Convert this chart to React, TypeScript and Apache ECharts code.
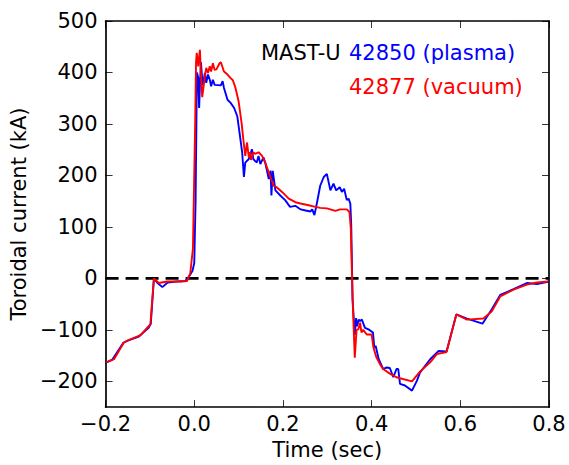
import React, { useEffect, useRef } from "react";
import * as echarts from "echarts";

const xTicks = [-0.2, 0.0, 0.2, 0.4, 0.6, 0.8];
const yTicks = [-200, -100, 0, 100, 200, 300, 400, 500];

const plasmaTime = [
  -0.198, -0.185, -0.16, -0.15, -0.125, -0.103, -0.098, -0.091, -0.084, -0.072, -0.06, -0.04, -0.02, -0.01, -0.004,
  0.0, 0.003, 0.006, 0.009, 0.011, 0.013, 0.015, 0.019, 0.024, 0.027, 0.031, 0.035, 0.038, 0.042, 0.046, 0.06,
  0.064, 0.067, 0.075, 0.082, 0.09, 0.097, 0.101, 0.105, 0.108, 0.112, 0.115, 0.123, 0.13, 0.133, 0.141, 0.145,
  0.149, 0.156, 0.16, 0.168, 0.172, 0.174, 0.177, 0.183, 0.194, 0.205, 0.216, 0.228, 0.24, 0.251, 0.262, 0.266,
  0.271, 0.277, 0.284, 0.292, 0.299, 0.307, 0.314, 0.32, 0.328, 0.333, 0.338, 0.344, 0.348, 0.352, 0.354, 0.357,
  0.362, 0.365, 0.367, 0.371, 0.374, 0.378, 0.385, 0.393, 0.403, 0.406, 0.409, 0.416, 0.426, 0.434, 0.441, 0.449,
  0.456, 0.46, 0.464, 0.475, 0.491, 0.502, 0.509, 0.532, 0.551, 0.569, 0.591, 0.615, 0.65, 0.671, 0.69, 0.72,
  0.75, 0.773, 0.8,
];
const plasmaCurrent = [
  -163, -158, -125, -121, -113, -96, -88, 0, -8, -17, -8, -6, -5, 6, 15,
  30, 150, 400, 390, 331, 380, 420, 375, 399, 380, 396, 386, 373, 386, 376, 375,
  383, 370, 347, 341, 331, 315, 290, 264, 245, 197, 225, 232, 251, 232, 225, 238,
  222, 235, 225, 193, 209, 161, 209, 171, 161, 152, 139, 141, 134, 132, 130, 134,
  123, 148, 180, 197, 203, 171, 184, 171, 177, 168, 174, 152, 155, 145, 103, -40,
  -110, -77, -93, -80, -83, -80, -96, -99, -105, -134, -131, -157, -176, -173, -174, -192,
  -176, -176, -205, -208, -218, -199, -183, -157, -141, -142, -70, -78, -88, -60, -32, -21,
  -9, -11, -6,
];

const vacuumTime = [
  -0.198, -0.181, -0.159, -0.151, -0.121, -0.102, -0.099, -0.091, -0.08, -0.061, -0.031, -0.016, -0.009, -0.003,
  0.002, 0.004, 0.0056, 0.009, 0.0127, 0.016, 0.018, 0.024, 0.027, 0.031, 0.035, 0.038, 0.042, 0.046, 0.05, 0.057,
  0.06, 0.067, 0.075, 0.082, 0.087, 0.093, 0.1, 0.107, 0.11, 0.112, 0.115, 0.119, 0.123, 0.126, 0.128, 0.133,
  0.137, 0.145, 0.153, 0.16, 0.168, 0.179, 0.186, 0.198, 0.213, 0.228, 0.242, 0.258, 0.273, 0.284, 0.299, 0.307,
  0.318, 0.329, 0.344, 0.35, 0.353, 0.357, 0.362, 0.366, 0.37, 0.374, 0.377, 0.381, 0.389, 0.4, 0.404, 0.411,
  0.419, 0.426, 0.441, 0.456, 0.464, 0.491, 0.509, 0.532, 0.547, 0.569, 0.591, 0.615, 0.652, 0.671, 0.69, 0.72,
  0.75, 0.773, 0.798,
];
const vacuumCurrent = [
  -163, -157, -125, -121, -110, -92, -89, 0, -9, -6, -6, -5, 10, 58,
  300, 420, 438, 412, 444, 380, 352, 393, 409, 399, 412, 402, 418, 405, 406, 418,
  420, 402, 396, 389, 385, 370, 344, 300, 275, 260, 238, 264, 235, 245, 230, 245,
  242, 245, 238, 225, 206, 180, 177, 168, 155, 148, 145, 142, 139, 137, 136, 134,
  131, 134, 134, 129, 97, -38, -154, -100, -99, -86, -105, -100, -109, -109, -134, -154,
  -167, -176, -185, -192, -194, -200, -181, -163, -147, -143, -70, -80, -78, -64, -35, -22,
  -12, -8, -6,
];

const zeroLine = [
  [-0.2, 0],
  [0.8, 0],
];

const FONT = "DejaVu Sans";
const FS = 21;

function zip(t: number[], v: number[]) {
  return t.map((x, i) => [x, v[i]]);
}

function fmtX(v: number) {
  if (Math.abs(v) < 1e-9) return "0.0";
  return v.toFixed(1).replace("-", "\u2212");
}
function fmtY(v: number) {
  return String(Math.round(v)).replace("-", "\u2212");
}

export default function App() {
  const ref = useRef<HTMLDivElement>(null);
  useEffect(() => {
    if (!ref.current) return;
    const chart = echarts.init(ref.current, null, { renderer: "svg" });
    const axisLine = { show: true, onZero: false, lineStyle: { color: "#000", width: 1.7 } };
    const tick = { show: true, inside: true, length: 7, lineStyle: { color: "#000", width: 0.8 } };
    chart.setOption({
      animation: false,
      backgroundColor: "#fff",
      grid: { left: 105, right: 20, top: 21, bottom: 54, containLabel: false },
      xAxis: [
        {
          type: "value",
          min: -0.2,
          max: 0.8,
          interval: 0.2,
          position: "bottom",
          axisLine,
          axisTick: { ...tick, customValues: xTicks },
          splitLine: { show: false },
          axisLabel: { color: "#000", fontFamily: FONT, fontSize: FS, margin: 6, customValues: xTicks, formatter: fmtX },
          name: "Time (sec)",
          nameLocation: "middle",
          nameGap: 24,
          nameTextStyle: { color: "#000", fontFamily: FONT, fontSize: FS },
        },
        {
          type: "value",
          min: -0.2,
          max: 0.8,
          interval: 0.2,
          position: "top",
          axisLine,
          axisTick: { ...tick, customValues: xTicks },
          splitLine: { show: false },
          axisLabel: { show: false },
        },
      ],
      yAxis: [
        {
          type: "value",
          min: -250,
          max: 500,
          position: "left",
          axisLine,
          axisTick: { ...tick, customValues: yTicks },
          splitLine: { show: false },
          axisLabel: {
            color: "#000",
            fontFamily: FONT,
            fontSize: FS,
            margin: 8,
            customValues: yTicks,
            formatter: fmtY,
          },
          name: "Toroidal current (kA)",
          nameLocation: "middle",
          nameGap: 73,
          nameTextStyle: { color: "#000", fontFamily: FONT, fontSize: FS },
        },
        {
          type: "value",
          min: -250,
          max: 500,
          position: "right",
          axisLine,
          axisTick: { ...tick, customValues: yTicks },
          splitLine: { show: false },
          axisLabel: { show: false },
        },
      ],
      series: [
        {
          type: "line",
          data: zeroLine,
          showSymbol: false,
          lineStyle: { color: "#000", width: 2.6, type: [13, 7] },
          z: 1,
        },
        {
          name: "42850 (plasma)",
          type: "line",
          data: zip(plasmaTime, plasmaCurrent),
          showSymbol: false,
          lineStyle: { color: "#0000ff", width: 1.9 },
          z: 2,
        },
        {
          name: "42877 (vacuum)",
          type: "line",
          data: zip(vacuumTime, vacuumCurrent),
          showSymbol: false,
          lineStyle: { color: "#ff0000", width: 1.9 },
          z: 3,
        },
      ],
      graphic: [
        {
          type: "text",
          left: 261,
          top: 42,
          style: { text: "MAST-U", fill: "#000", font: `${FS}px "${FONT}"` },
        },
        {
          type: "text",
          left: 349,
          top: 42,
          style: { text: "42850 (plasma)", fill: "#0000ff", font: `${FS}px "${FONT}"` },
        },
        {
          type: "text",
          left: 349,
          top: 76,
          style: { text: "42877 (vacuum)", fill: "#ff0000", font: `${FS}px "${FONT}"` },
        },
      ],
    });
    return () => chart.dispose();
  }, []);
  return (
    <div
      ref={ref}
      style={{ position: "fixed", left: 0, top: 0, width: 569, height: 465, background: "#fff" }}
    />
  );
}
